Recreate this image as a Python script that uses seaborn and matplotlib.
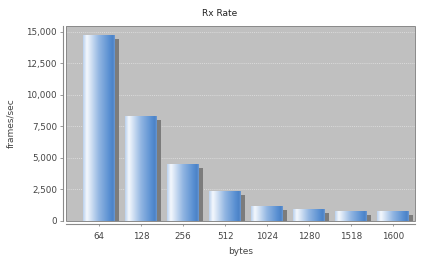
import numpy as np
import pandas as pd
import matplotlib
matplotlib.use("Agg")
import matplotlib.pyplot as plt
import matplotlib.patheffects as pe
from matplotlib.colors import LinearSegmentedColormap
from matplotlib.patches import Rectangle
import seaborn as sns

# Data
frame_sizes = ["64", "128", "256", "512", "1024", "1280", "1518", "1600"]
rx_rate = [14700, 8300, 4480, 2340, 1170, 930, 800, 760]
y_ticks = [0, 2500, 5000, 7500, 10000, 12500, 15000]
title = "Rx Rate"
x_label = "bytes"
y_label = "frames/sec"

df = pd.DataFrame({"bytes": frame_sizes, "rate": rx_rate})

sns.set_style("white")
plt.rcParams["font.family"] = ["DejaVu Sans"]

W, H = 421, 260
fig = plt.figure(figsize=(W / 100, H / 100), dpi=100)
fig.patch.set_facecolor("white")
left, right, top, bottom = 66, 415, 26, 221
ax = fig.add_axes([left / W, 1 - bottom / H, (right - left) / W, (bottom - top) / H])
ax.set_facecolor("#c0c0c0")

sns.barplot(data=df, x="bytes", y="rate", order=frame_sizes, width=0.76,
            color="#5b8fcf", saturation=1, ax=ax, zorder=2)

shadow = [pe.SimplePatchShadow(offset=(2.9, -2.9), shadow_rgbFace="#7c7c7c", alpha=1.0),
          pe.Normal()]
cmap = LinearSegmentedColormap.from_list(
    "bar", [(0.0, "#b9d0ee"), (0.12, "#f4f8fd"), (0.22, "#dbe7f6"),
            (0.5, "#92b6e2"), (0.82, "#5a90d2"), (0.94, "#4b82c7"), (1.0, "#6d9bd3")])
grad = np.linspace(0, 1, 256).reshape(1, -1)
for p in ax.patches:
    p.set_edgecolor("none")
    p.set_path_effects(shadow)
    x0, w, h = p.get_x(), p.get_width(), p.get_height()
    im = ax.imshow(grad, cmap=cmap, extent=(x0, x0 + w, 0, h), aspect="auto",
                   zorder=3, interpolation="bilinear")
    im.set_clip_path(p)

ax.set_xlim(-0.786, 7.52)
ax.set_ylim(0, 15450)
ax.set_yticks(y_ticks)
ax.set_yticklabels([f"{v:,}" for v in y_ticks])

ax.yaxis.grid(True, color="#e4e4e4", linestyle=(0, (1.5, 1.5)), linewidth=0.5)
ax.set_axisbelow(True)
ax.xaxis.grid(False)

for s in ["top", "right"]:
    ax.spines[s].set_visible(False)
for s in ["left", "bottom"]:
    ax.spines[s].set_position(("outward", 2.5))
    ax.spines[s].set_color("#8a8a8a")
    ax.spines[s].set_linewidth(0.8)
ax.add_patch(Rectangle((0, 0), 1, 1, transform=ax.transAxes, fill=False,
                       edgecolor="#8a8a8a", linewidth=0.7, zorder=5, clip_on=False))

ax.tick_params(axis="y", which="major", length=2, width=0.6, color="#8a8a8a",
               labelsize=6.3, labelcolor="#444444", pad=2, left=True)
ax.tick_params(axis="x", which="major", length=1.5, width=0.6, color="#8a8a8a",
               labelsize=6.3, labelcolor="#444444", pad=4, bottom=True)

ax.set_xlabel(x_label, fontsize=6.5, color="#444444", labelpad=4)
ax.set_ylabel(y_label, fontsize=6.5, color="#444444", labelpad=8)
fig.text(220 / W, 1 - 14 / H, title, ha="center", va="center", fontsize=6.5, color="#222222")

fig.savefig("out.png", dpi=100)
